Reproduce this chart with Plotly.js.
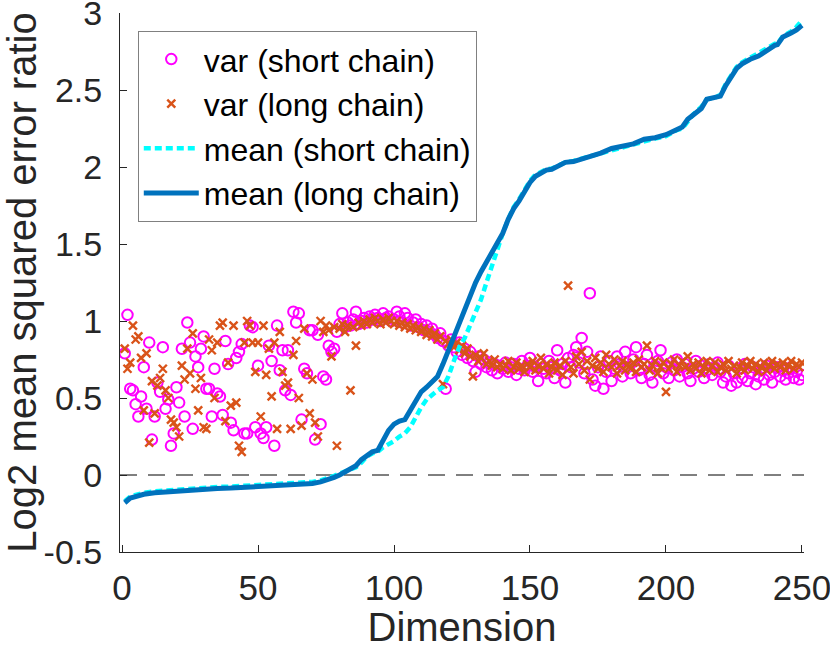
<!DOCTYPE html>
<html>
<head>
<meta charset="utf-8">
<script src="https://cdn.plot.ly/plotly-3.0.1.min.js"></script>
<style>
  body { margin: 0; background: #ffffff; }
  #chart { width: 830px; height: 649px; }
</style>
</head>
<body>
<div id="chart"></div>
<script>
// Log2 ratio of the variance error, one value per dimension (1..250)
const varShort = [
  0.79, 1.04, 0.56, 0.55, 0.46, 0.38, 0.51, 0.70, 0.43, 0.86,
  0.23, 0.38, 0.60, 0.54, 0.83, 0.43, 0.49, 0.19, 0.27, 0.57,
  0.47, 0.82, 0.38, 0.99, 0.86, 0.30, 0.77, 0.70, 0.82, 0.90,
  0.56, 0.56, 0.38, 0.69, 0.53, 0.51, 0.39, 0.87, 0.72, 0.34,
  0.29, 0.76, 0.80, 0.85, 0.27, 0.27, 0.97, 0.96, 0.31, 0.71,
  0.27, 0.24, 0.31, 0.84, 0.74, 0.19, 0.97, 0.68, 0.81, 0.55,
  0.81, 0.52, 1.06, 0.99, 1.05, 0.36, 0.69, 0.66, 0.94, 0.94,
  0.23, 0.91, 0.33, 0.64, 0.62, 0.84, 0.80, 0.82, 0.93, 0.98,
  1.05, 0.96, 0.99, 0.97, 1.01, 1.06, 0.98, 1.00, 1.02, 0.99,
  1.03, 1.01, 1.04, 1.02, 1.00, 1.05, 1.02, 1.03, 1.00, 1.01,
  1.06, 1.03, 0.99, 1.05, 1.02, 0.97, 0.99, 1.01, 0.96, 0.98,
  0.94, 0.97, 0.93, 0.95, 0.91, 0.89, 0.92, 0.87, 0.56, 0.84,
  0.88, 0.83, 0.80, 0.86, 0.78, 0.82, 0.76, 0.80, 0.74, 0.67,
  0.77, 0.72, 0.75, 0.70, 0.73, 0.68, 0.72, 0.66, 0.71, 0.69,
  0.73, 0.67, 0.70, 0.72, 0.65, 0.69, 0.74, 0.68, 0.71, 0.76,
  0.67, 0.70, 0.61, 0.72, 0.69, 0.66, 0.74, 0.70, 0.63, 0.81,
  0.68, 0.72, 0.60, 0.76, 0.70, 0.78, 0.83, 0.73, 0.89, 0.66,
  0.80, 1.18, 0.62, 0.58, 0.70, 0.77, 0.56, 0.67, 0.74, 0.61,
  0.69, 0.77, 0.72, 0.64, 0.80, 0.70, 0.66, 0.75, 0.83, 0.68,
  0.63, 0.72, 0.78, 0.65, 0.60, 0.71, 0.74, 0.81, 0.66, 0.70,
  0.63, 0.73, 0.68, 0.75, 0.64, 0.70, 0.72, 0.66, 0.61, 0.69,
  0.74, 0.67, 0.71, 0.63, 0.68, 0.72, 0.65, 0.70, 0.73, 0.67,
  0.60, 0.64, 0.71, 0.58, 0.66, 0.60, 0.69, 0.63, 0.72, 0.61,
  0.66, 0.70, 0.59, 0.64, 0.68, 0.62, 0.71, 0.65, 0.60, 0.67,
  0.70, 0.64, 0.68, 0.62, 0.66, 0.70, 0.63, 0.67, 0.62, 0.65
];

const varLong = [
  0.82, 0.69, 0.73, 0.97, 0.88, 0.90, 0.76, 0.42, 0.79, 0.21,
  0.61, 0.40, 0.58, 0.63, 0.69, 0.55, 0.50, 0.36, 0.34, 0.31,
  0.25, 0.71, 0.62, 0.82, 0.66, 0.92, 0.56, 0.42, 0.63, 0.31,
  0.30, 0.88, 0.81, 0.50, 0.86, 0.97, 0.99, 0.35, 0.73, 0.45,
  0.97, 0.47, 0.19, 0.15, 0.86, 1.00, 0.97, 0.86, 0.67, 0.86,
  0.38, 0.97, 0.65, 0.82, 0.51, 0.86, 0.30, 0.93, 0.67, 0.58,
  0.60, 0.30, 0.78, 0.87, 0.50, 0.32, 0.95, 0.66, 0.40, 0.62,
  0.34, 0.25, 1.00, 0.93, 0.97, 0.94, 0.77, 0.96, 0.19, 0.95,
  0.98, 0.93, 0.97, 0.55, 0.96, 0.84, 0.99, 0.97, 1.00, 0.98,
  1.01, 0.99, 1.02, 1.00, 0.98, 1.01, 0.99, 1.02, 1.00, 0.98,
  1.00, 0.97, 0.99, 0.96, 0.98, 0.95, 0.97, 0.94, 0.96, 0.93,
  0.95, 0.91, 0.94, 0.90, 0.92, 0.88, 0.90, 0.59, 0.87, 0.85,
  0.88, 0.83, 0.86, 0.81, 0.84, 0.79, 0.82, 0.77, 0.64, 0.78,
  0.74, 0.76, 0.79, 0.72, 0.74, 0.71, 0.75, 0.70, 0.72, 0.69,
  0.71, 0.74, 0.68, 0.70, 0.73, 0.69, 0.71, 0.67, 0.72, 0.70,
  0.74, 0.68, 0.71, 0.76, 0.69, 0.72, 0.66, 0.70, 0.73, 0.68,
  0.71, 0.65, 0.74, 1.23, 0.70, 0.66, 0.77, 0.72, 0.80, 0.68,
  0.74, 0.62, 0.71, 0.76, 0.69, 0.73, 0.67, 0.78, 0.72, 0.70,
  0.75, 0.66, 0.71, 0.74, 0.68, 0.72, 0.69, 0.73, 0.67, 0.75,
  0.70, 0.72, 0.84, 0.68, 0.71, 0.74, 0.66, 0.70, 0.73, 0.54,
  0.69, 0.72, 0.75, 0.67, 0.71, 0.74, 0.70, 0.77, 0.68, 0.72,
  0.69, 0.73, 0.66, 0.70, 0.74, 0.68, 0.71, 0.73, 0.67, 0.70,
  0.72, 0.68, 0.74, 0.69, 0.71, 0.66, 0.70, 0.73, 0.68, 0.71,
  0.74, 0.69, 0.72, 0.67, 0.70, 0.73, 0.68, 0.71, 0.74, 0.69,
  0.72, 0.70, 0.73, 0.68, 0.71, 0.74, 0.69, 0.72, 0.70, 0.73
];

// Log2 ratio of the mean error, read at these dimensions
const meanDims = [
  1, 3, 5, 8, 12, 16, 20, 25, 30, 35,
  40, 45, 50, 55, 60, 65, 70, 73, 76, 78,
  80, 82, 84, 86, 88, 90, 92, 94, 96, 98,
  100, 102, 104, 106, 108, 110, 112, 114, 116, 118,
  120, 122, 124, 126, 128, 130, 132, 134, 136, 138,
  140, 142, 144, 146, 148, 150, 152, 154, 156, 158,
  160, 163, 166, 168, 172, 176, 180, 184, 188, 192,
  196, 200, 204, 206, 208, 210, 213, 215, 218, 220,
  222, 224, 226, 228, 231, 234, 237, 240, 241, 243,
  246, 248, 250
];

const meanLong = [
  -0.18, -0.15, -0.14, -0.125, -0.115, -0.11, -0.10, -0.095, -0.09, -0.088,
  -0.085, -0.08, -0.078, -0.073, -0.068, -0.062, -0.055, -0.045, -0.03, -0.015,
  0.0, 0.02, 0.035, 0.06, 0.10, 0.13, 0.15, 0.16, 0.22, 0.29,
  0.33, 0.35, 0.36, 0.42, 0.49, 0.54, 0.57, 0.60, 0.64, 0.72,
  0.81, 0.91, 1.00, 1.08, 1.17, 1.25, 1.32, 1.38, 1.44, 1.51,
  1.57, 1.66, 1.73, 1.78, 1.84, 1.90, 1.94, 1.96, 1.98, 1.985,
  2.00, 2.03, 2.035, 2.045, 2.07, 2.09, 2.12, 2.135, 2.15, 2.18,
  2.19, 2.21, 2.245, 2.26, 2.31, 2.34, 2.38, 2.44, 2.455, 2.46,
  2.53, 2.59, 2.64, 2.67, 2.70, 2.72, 2.76, 2.79, 2.795, 2.845,
  2.87, 2.89, 2.92
];

const meanShort = [
  -0.17, -0.14, -0.13, -0.115, -0.105, -0.10, -0.09, -0.085, -0.08, -0.078,
  -0.075, -0.07, -0.068, -0.063, -0.058, -0.052, -0.045, -0.035, -0.02, -0.005,
  0.01, 0.025, 0.035, 0.05, 0.08, 0.12, 0.14, 0.15, 0.18, 0.20,
  0.22, 0.25, 0.27, 0.31, 0.38, 0.44, 0.49, 0.52, 0.55, 0.57,
  0.64, 0.74, 0.83, 0.89, 0.97, 1.05, 1.14, 1.25, 1.36, 1.47,
  1.57, 1.66, 1.74, 1.79, 1.85, 1.91, 1.95, 1.97, 1.985, 1.99,
  2.005, 2.03, 2.04, 2.05, 2.07, 2.085, 2.11, 2.13, 2.145, 2.17,
  2.185, 2.20, 2.24, 2.25, 2.30, 2.34, 2.39, 2.44, 2.45, 2.47,
  2.54, 2.60, 2.65, 2.68, 2.71, 2.74, 2.77, 2.80, 2.80, 2.85,
  2.88, 2.91, 2.95
];

const xTicks = [0, 50, 100, 150, 200, 250];
const yTicks = [-0.5, 0, 0.5, 1, 1.5, 2, 2.5, 3];
const yTickText = ["-0.5", "0", "0.5", "1", "1.5", "2", "2.5", "3"];

const dims = varShort.map((v, i) => i + 1);
const axisColor = "#262626";
const fontFamily = "Liberation Sans, Arial, Helvetica, sans-serif";

const traces = [
  {
    x: dims,
    y: varShort,
    mode: "markers",
    name: "var (short chain)",
    marker: { symbol: "circle-open", size: 10.5, color: "#ff00ff", line: { width: 2, color: "#ff00ff" } }
  },
  {
    x: dims,
    y: varLong,
    mode: "markers",
    name: "var (long chain)",
    marker: { symbol: "x-thin-open", size: 8, color: "#d95319", line: { width: 2.4, color: "#d95319" } }
  },
  {
    x: meanDims,
    y: meanShort,
    mode: "lines",
    name: "mean (short chain)",
    line: { color: "#00ffff", width: 4.5, dash: "7px,4px" }
  },
  {
    x: meanDims,
    y: meanLong,
    mode: "lines",
    name: "mean (long chain)",
    line: { color: "#0072bd", width: 5 }
  }
];

const layout = {
  width: 830,
  height: 649,
  margin: { l: 120, r: 26, t: 13, b: 97 },
  paper_bgcolor: "#ffffff",
  plot_bgcolor: "#ffffff",
  font: { family: fontFamily, color: axisColor },
  showlegend: true,
  legend: {
    x: 0.026,
    y: 0.967,
    xanchor: "left",
    yanchor: "top",
    bgcolor: "#ffffff",
    bordercolor: "#808080",
    borderwidth: 1,
    itemwidth: 55,
    tracegroupgap: 0,
    font: { family: fontFamily, size: 32, color: "#000000" }
  },
  xaxis: {
    range: [-0.75, 250.75],
    tickvals: xTicks,
    ticks: "inside",
    ticklen: 7,
    tickcolor: axisColor,
    showline: true,
    linecolor: axisColor,
    linewidth: 1,
    showgrid: false,
    zeroline: false,
    ticklabelstandoff: 5,
    ticklabeloverflow: "allow",
    tickfont: { size: 35, color: axisColor },
    title: { text: "Dimension", font: { size: 40, color: axisColor }, standoff: 8 }
  },
  yaxis: {
    range: [-0.5, 3],
    tickvals: yTicks,
    ticktext: yTickText,
    ticks: "inside",
    ticklen: 7,
    tickcolor: axisColor,
    showline: true,
    linecolor: axisColor,
    linewidth: 1,
    showgrid: false,
    zeroline: false,
    ticklabelstandoff: 10,
    ticklabeloverflow: "allow",
    tickfont: { size: 34, color: axisColor },
    title: { text: "Log2 mean squared error ratio", font: { size: 40, color: axisColor }, standoff: 2 }
  },
  // dashed reference line at zero
  shapes: [
    {
      type: "line",
      xref: "paper",
      x0: 0,
      x1: 1,
      yref: "y",
      y0: 0,
      y1: 0,
      layer: "below",
      line: { color: "#000000", width: 1, dash: "17px,11px" }
    }
  ]
};

Plotly.newPlot("chart", traces, layout, { displayModeBar: false, staticPlot: true });
</script>
</body>
</html>
